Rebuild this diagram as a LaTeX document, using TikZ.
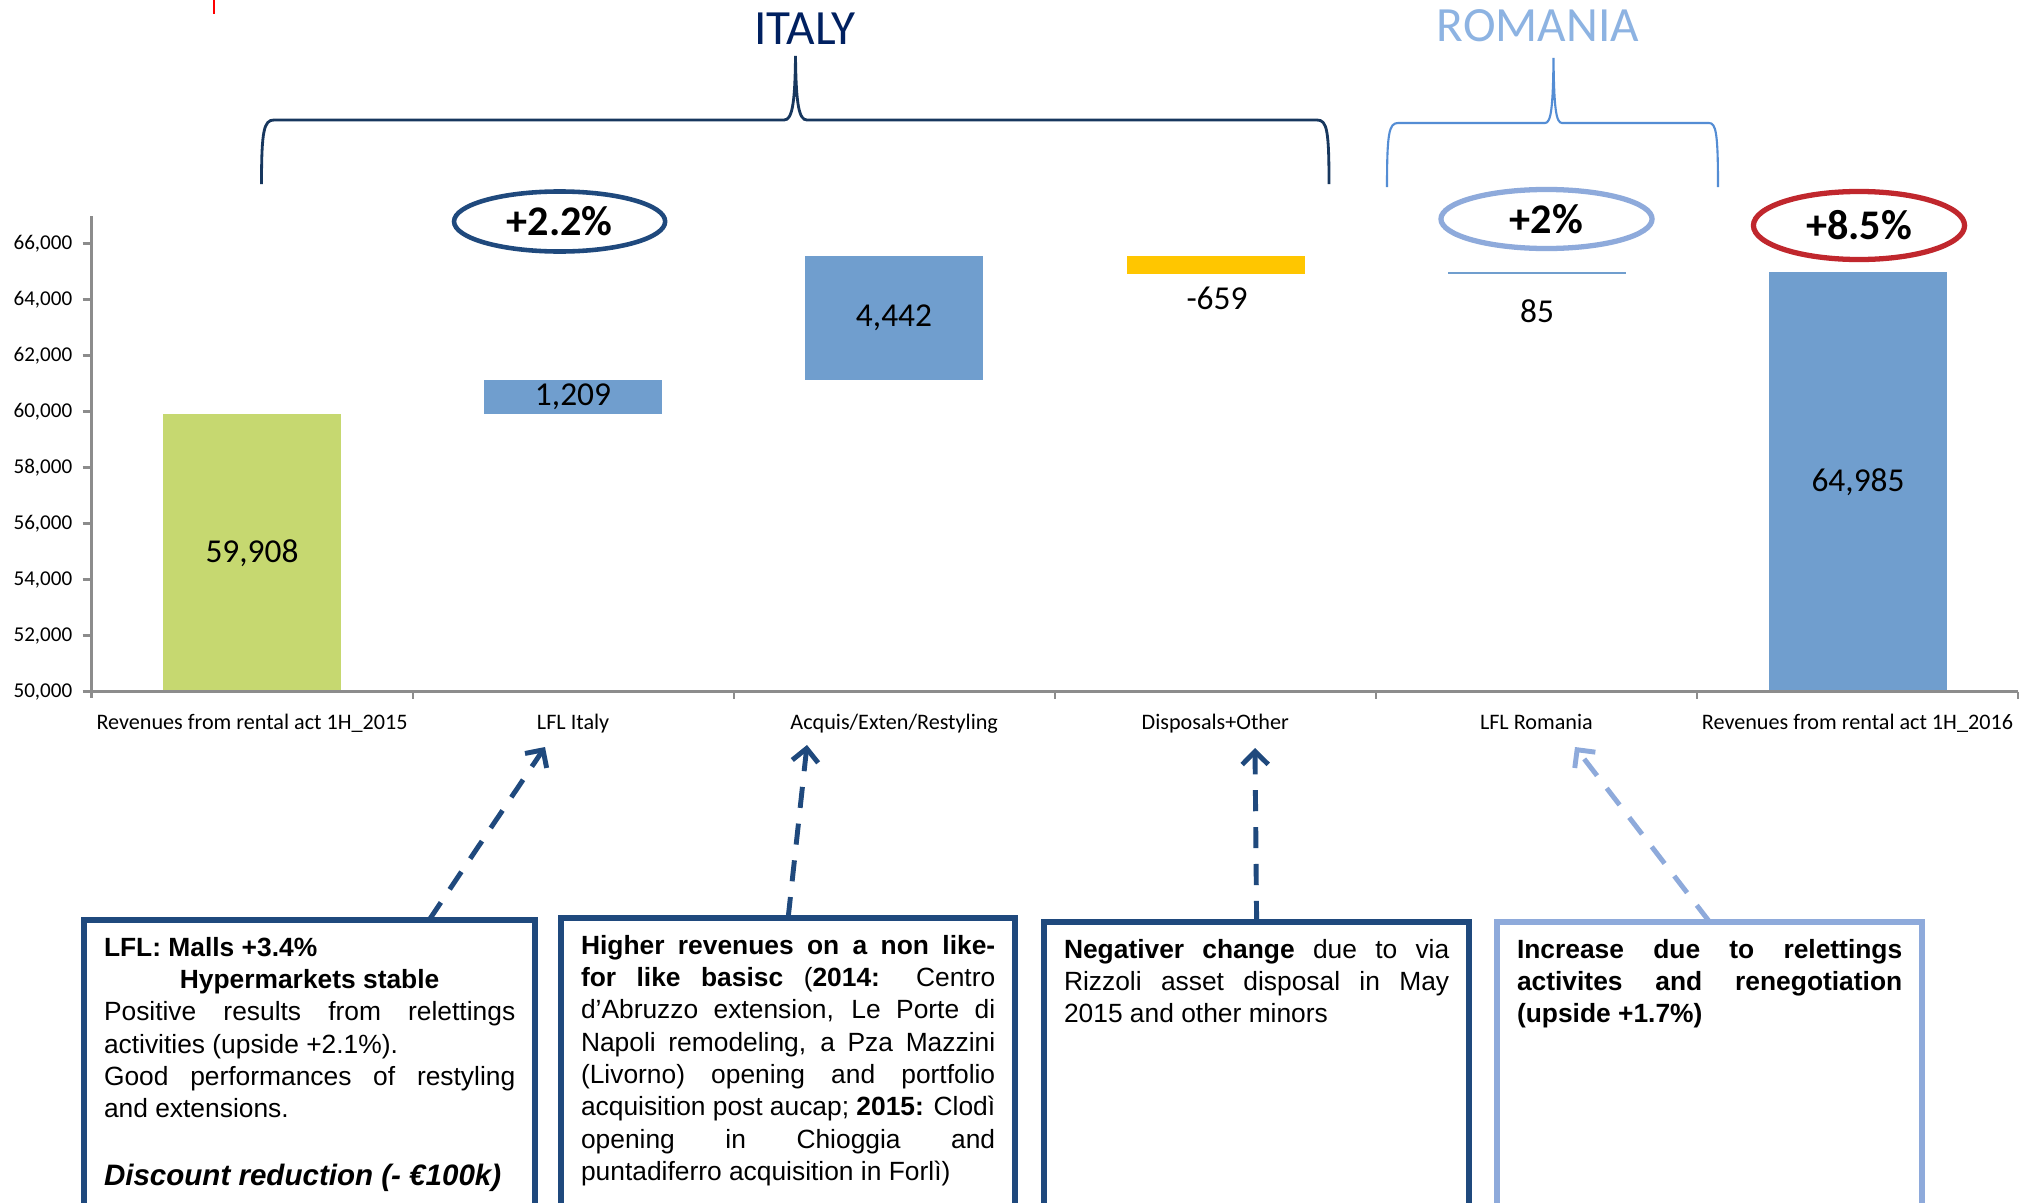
\documentclass[tikz,border=0pt]{standalone}
\usepackage{fontspec}
\setmainfont{Liberation Sans}
\newfontfamily\chartfont{Carlito}
\usetikzlibrary{arrows.meta,positioning,shapes.geometric,calc}
\definecolor{dblue}{RGB}{31,73,125}
\definecolor{lblue}{RGB}{142,170,219}
\definecolor{barblue}{RGB}{112,158,206}
\definecolor{bargreen}{RGB}{198,216,112}
\definecolor{baryellow}{RGB}{255,198,0}
\definecolor{pctred}{RGB}{192,39,45}
\definecolor{italynavy}{RGB}{0,32,96}
\definecolor{bracenavy}{RGB}{23,55,94}
\definecolor{romblue}{RGB}{141,179,226}
\definecolor{rombrace}{RGB}{84,141,212}
\definecolor{axisgray}{RGB}{140,140,140}
% value in thousands -> height on the chart
\newcommand{\vy}[1]{691.5-(#1-50)*28}

\begin{document}
\begin{tikzpicture}[
        x=0.01cm, y=-0.01cm,
        axis/.style={draw=axisgray, line width=0.6pt},
        ytick/.style={anchor=east, inner sep=0, font=\chartfont\fontsize{6}{7}\selectfont},
        cat/.style={anchor=base, inner sep=0, font=\chartfont\fontsize{6.3}{7.5}\selectfont},
        val/.style={inner sep=0, font=\chartfont\fontsize{9.5}{11}\selectfont},
        pct/.style={ellipse, minimum width=2.11cm, minimum height=0.6cm, inner sep=0, font=\chartfont\bfseries\fontsize{12}{14}\selectfont},
        region/.style={inner sep=0, font=\chartfont\fontsize{14}{16}\selectfont},
        note/.style={draw, anchor=north west, outer sep=0, line width=1.6pt, align=justify, inner xsep=0.2cm, inner ysep=0.16cm, text height=0.2cm, text depth=3.2cm, font=\fontsize{7.5}{9.2}\selectfont},
        darr/.style={line width=1.4pt, dash pattern=on 6pt off 4.5pt, -{Straight Barb[length=1.3mm, width=2.6mm]}}
    ]
    \useasboundingbox (0,0) rectangle (2042,1203);
    \clip (0,0) rectangle (2042,1203);
    \fill[white] (0,0) rectangle (2042,1203);
    \draw[red, line width=0.4pt] (214,0) -- (214,14);

    % Bars
    \fill[bargreen] (162.7,693) rectangle (340.7,{\vy{59.908}});
    \fill[barblue] (484,{\vy{59.908}}) rectangle (662,{\vy{61.117}});
    \fill[barblue] (805,{\vy{61.117}}) rectangle (983,{\vy{65.559}});
    \fill[baryellow] (1126.6,{\vy{65.559}}) rectangle (1304.6,{\vy{64.9}});
    \fill[barblue] (1448,{\vy{64.9}}) rectangle (1626,{\vy{64.985}});
    \fill[barblue] (1769,693) rectangle (1947,{\vy{64.985}});

    % Axes
    \draw[axis] (91.5,216) -- (91.5,698);
    \draw[axis] (91.5,691.5) -- (2018,691.5);
    \foreach \i in {1,...,6}
        \draw[axis] ({91.5+321.08*\i},691.5) -- ++(0,7);
    \foreach \v in {50,52,...,66} {
        \draw[axis] (82.5,{\vy{\v}}) -- (91.5,{\vy{\v}});
        \node[ytick] (yt\v) at (73,{\vy{\v}}) {\v,000};
    }
    \foreach \t [count=\i] in {Revenues from rental act 1H\_2015, LFL Italy, Acquis/Exten/Restyling, Disposals+Other, LFL Romania, Revenues from rental act 1H\_2016}
        \node[cat] (cat\i) at ({91.5+321.08*(\i-0.5)},729) {\t};

    % Values
    \node[val] (v1) at (252,553) {59,908};
    \node[val] (v2) at (573,397) {1,209};
    \node[val] (v3) at (894,318) {4,442};
    \node[val] (v4) at (1217,298) {-659};
    \node[val] (v5) at (1537,311) {85};
    \node[val] (v6) at (1858,482) {64,985};

    % Growth rates
    \node[pct, draw=dblue, line width=1.3pt] (pIT) at (559.6,221.5) {+2.2\%};
    \node[pct, draw=lblue, line width=1.5pt, minimum height=0.59cm] (pRO) at (1546.5,219) {+2\%};
    \node[pct, draw=pctred, line width=1.5pt, minimum height=0.68cm] (pTot) at (1859,225.5) {+8.5\%};

    % Braces
    \draw[bracenavy, line width=0.8pt] (261.5,184) .. controls (261.5,130) and (264,120) .. (274,120) -- (784,120)
        .. controls (792,120) and (795,105) .. (795.5,56) .. controls (796,105) and (799,120) .. (807,120) -- (1317,120)
        .. controls (1327,120) and (1329,130) .. (1329,184);
    \draw[rombrace, line width=0.6pt] (1387,187) .. controls (1387,133) and (1389,123) .. (1398,123) -- (1545,123)
        .. controls (1551,123) and (1553,108) .. (1553.5,58) .. controls (1554,108) and (1556,123) .. (1562,123) -- (1709,123)
        .. controls (1716,123) and (1718,133) .. (1718,187);
    \node[region, text=italynavy] (italy) at (805,29) {ITALY};
    \node[region, text=romblue] (romania) at (1538,26) {ROMANIA};

    % Comment boxes
    \node[note, draw=dblue, text width=4.11cm] (box1) at (84,920) {
        \textbf{LFL: Malls +3.4\%}\\
        \null\hfill\textbf{Hypermarkets stable}\hfill\null\\
        Positive results from relettings\linebreak activities (upside +2.1\%).\\
        Good performances of restyling\linebreak and extensions.\\[10pt]
        {\fontsize{8.4}{9.2}\selectfont\textbf{\textit{Discount reduction (- €100k)}}}
    };
    \node[note, draw=dblue, text width=4.14cm] (box2) at (561,918) {
        \textbf{Higher revenues on a non like-}\linebreak
        \textbf{for like basisc} (\textbf{2014:} Centro\linebreak
        d’Abruzzo extension, Le Porte di\linebreak
        Napoli remodeling, a Pza Mazzini\linebreak
        (Livorno) opening and portfolio\linebreak
        acquisition post aucap; \textbf{2015:} Clodì\linebreak
        opening in Chioggia and\linebreak
        puntadiferro acquisition in Forlì)
    };
    \node[note, draw=dblue, text width=3.85cm] (box3) at (1044,922) {
        \textbf{Negativer change} due to via\linebreak
        Rizzoli asset disposal in May\linebreak
        2015 and other minors
    };
    \node[note, draw=lblue, text width=3.85cm] (box4) at (1497,922) {
        \textbf{Increase due to relettings\linebreak
        activites and renegotiation\linebreak
        (upside +1.7\%)}
    };

    % Dashed pointers
    \coordinate (tipA) at (545,747);
    \coordinate (tipB) at (807,745);
    \coordinate (tipC) at (1255,748);
    \coordinate (tipD) at (1575,747);
    \draw[darr, dblue] ($(box1.north)+(119.5,0)$) -- (tipA);
    \draw[darr, dblue] (box2.north) -- (tipB);
    \draw[darr, dblue] (box3.north) -- (tipC);
    \draw[darr, lblue] (box4.north) -- (tipD);
\end{tikzpicture}
\end{document}
